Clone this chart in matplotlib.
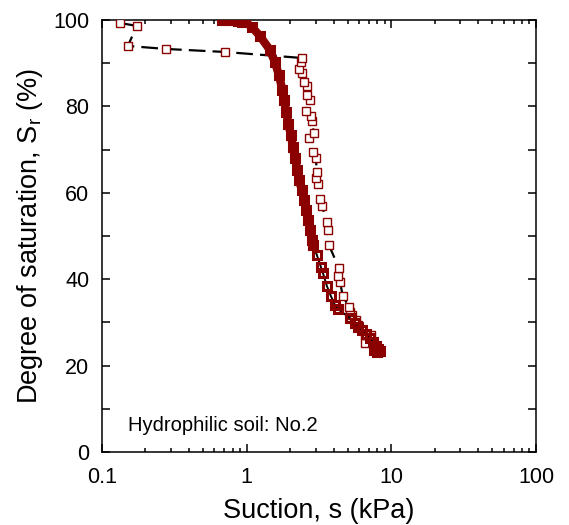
import matplotlib
matplotlib.use("Agg")
import matplotlib.pyplot as plt
from matplotlib.ticker import MultipleLocator, LogLocator, FixedLocator, NullFormatter

plt.rcParams['font.family'] = ['Liberation Sans', 'DejaVu Sans']
plt.rcParams['mathtext.fontset'] = 'custom'
plt.rcParams['mathtext.rm'] = 'Liberation Sans'

# Drying path (dense measurements)
dry_s = [0.674, 0.719, 0.767, 0.817, 0.871, 0.928, 0.973, 1.088, 1.236, 1.449,
         1.569, 1.672, 1.768, 1.811, 1.884, 1.945, 2.024, 2.089, 2.157, 2.245,
         2.298, 2.411, 2.509, 2.590, 2.674, 2.739, 2.827, 2.872, 3.060, 3.263,
         3.368, 3.589, 3.825, 4.076, 4.276, 5.174, 5.605, 5.879, 6.263, 6.675,
         7.114, 7.463, 7.829, 8.082, 8.341, 7.954, 7.584]
dry_sr = [100.0, 100.0, 100.0, 99.9, 99.8, 99.6, 99.54, 98.38, 96.30, 93.06,
          90.28, 87.27, 83.80, 81.48, 78.70, 75.93, 73.38, 70.60, 68.06, 65.28,
          62.96, 60.65, 58.33, 56.02, 53.70, 51.39, 49.07, 47.92, 45.60, 42.82,
          41.44, 38.43, 36.11, 34.03, 33.10, 31.02, 29.86, 28.94, 28.24, 27.31,
          26.39, 25.46, 24.54, 23.84, 23.38, 23.15, 23.60]
n_dense = 28  # first part of drying path is a continuous band of points

# Wetting path
wet_s = [8.08, 7.228, 6.570, 6.570, 6.263, 5.879, 5.695, 5.341, 5.174, 5.093,
         4.629, 4.414, 4.276, 4.344, 3.706, 3.647, 3.589, 3.315, 3.211, 3.109,
         3.012, 3.060, 3.012, 2.872, 2.695, 2.919, 2.827, 2.782, 2.569, 2.739,
         2.611, 2.611, 2.489, 2.411, 2.298, 2.373, 2.411, 0.708, 0.277, 0.1512,
         0.1745, 0.1332]
wet_sr = [23.84, 27.08, 25.23, 27.08, 28.24, 29.40, 30.56, 31.71, 32.41, 33.56,
          36.11, 39.35, 40.74, 42.59, 47.92, 51.39, 53.24, 56.94, 58.56, 62.04,
          63.43, 64.81, 68.06, 69.44, 72.69, 73.84, 76.62, 77.78, 78.94, 81.48,
          82.64, 84.72, 85.65, 87.73, 88.66, 90.28, 91.20, 92.59, 93.29, 93.98,
          98.61, 99.31]

red = '#8b0000'

fig = plt.figure(figsize=(5.69, 5.25), dpi=100)
ax = fig.add_axes([0.179, 0.139, 0.763, 0.823])

# wetting path: dashed black line with open squares
ax.plot(wet_s, wet_sr, color='black', lw=1.6, dashes=(7.5, 3.2), zorder=2)
ax.plot(wet_s, wet_sr, ls='none', marker='s', ms=5.2, mfc='white', mec=red,
        mew=1.0, zorder=3)

# drying path: black line + squares + dense band
ax.plot(dry_s, dry_sr, color='black', lw=1.4, zorder=4)
ax.plot(dry_s, dry_sr, ls='none', marker='s', ms=6, mfc='none', mec=red,
        mew=2.2, zorder=5)
ax.plot(dry_s[:n_dense], dry_sr[:n_dense], color=red, lw=6,
        solid_capstyle='round', solid_joinstyle='round', zorder=6)

ax.set_xscale('log')
ax.set_xlim(0.1, 100)
ax.set_ylim(0, 100)
ax.xaxis.set_major_locator(FixedLocator([0.1, 1, 10, 100]))
ax.set_xticklabels(['0.1', '1', '10', '100'])
ax.xaxis.set_minor_locator(LogLocator(base=10, subs=range(2, 10)))
ax.xaxis.set_minor_formatter(NullFormatter())
ax.yaxis.set_major_locator(MultipleLocator(20))
ax.yaxis.set_minor_locator(MultipleLocator(10))

ax.tick_params(which='both', direction='in', top=True, right=True,
               width=1.1, labelsize=15.5)
ax.tick_params(axis='x', which='major', length=6, pad=11)
ax.tick_params(axis='x', which='minor', length=3)
ax.tick_params(axis='y', which='both', length=5.5, pad=9)
for sp in ax.spines.values():
    sp.set_linewidth(1.1)

ax.set_xlabel('Suction, s (kPa)', fontsize=19.5, labelpad=7)
ax.set_ylabel('Degree of saturation, S$_\\mathregular{r}$ (%)', fontsize=19.5,
              labelpad=6)

ax.text(0.06, 0.0625, 'Hydrophilic soil: No.2', transform=ax.transAxes,
        fontsize=14.5, va='center', ha='left')

fig.savefig('out.png', dpi=100)
